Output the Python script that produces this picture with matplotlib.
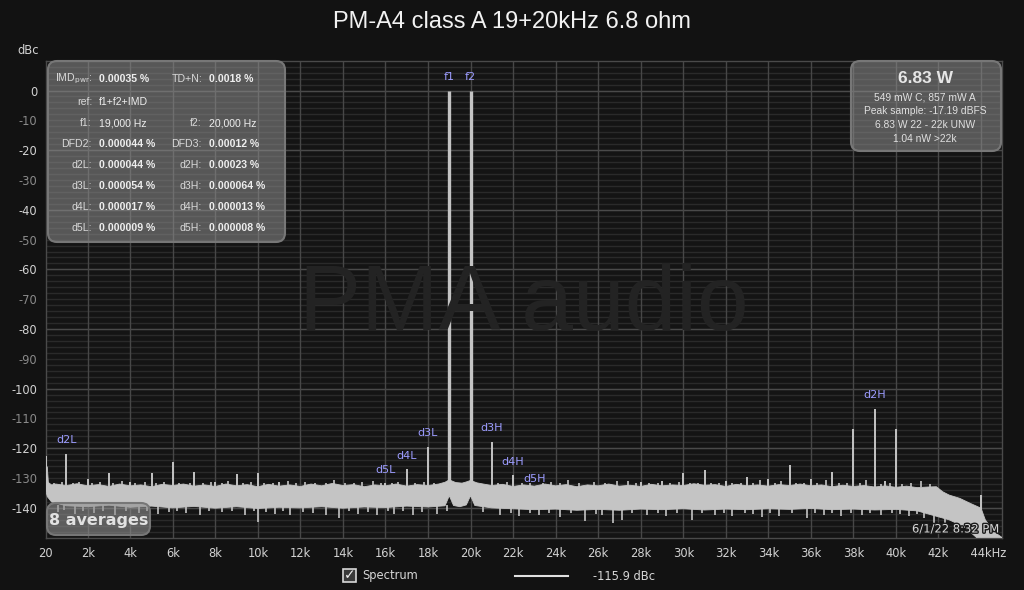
import numpy as np
import matplotlib
matplotlib.use("Agg")
import matplotlib.pyplot as plt
from matplotlib.patches import FancyBboxPatch, Rectangle
from matplotlib.lines import Line2D
import matplotlib.patheffects as pe

# ---------------- data ----------------
title = "PM-A4 class A 19+20kHz 6.8 ohm"

x_tick_hz = [20] + list(range(2000, 44001, 2000))
x_tick_labels = ["20"] + [f"{k}k" for k in range(2, 43, 2)] + ["    44kHz"]
y_tick_db = list(range(0, -141, -10))

# noise-floor band: upper envelope (kHz, dBc)
floor_top_khz = [0.02, 0.06, 0.10, 0.15, 0.3, 0.5, 1.0, 1.5, 2.0, 2.5, 3.0, 3.5, 4.0, 4.5, 5.0,
                 5.5, 6.0, 6.5, 7.0, 7.5, 8.0, 8.5, 9.0, 9.5, 10.0, 10.5, 11.0, 11.5, 12.0,
                 12.5, 13.0, 13.5, 14.0, 14.5, 15.0, 15.5, 16.0, 16.5, 17.0, 17.5, 18.0, 18.5,
                 18.8, 19.0, 19.3, 19.6, 19.8, 20.0, 20.3, 20.6, 21.0, 21.5, 22.0, 22.5, 23.0,
                 23.5, 24.0, 24.5, 25.0, 25.5, 26.0, 26.5, 27.0, 27.5, 28.0, 28.5, 29.0, 29.5,
                 30.0, 30.5, 31.0, 31.5, 32.0, 32.5, 33.0, 33.5, 34.0, 34.5, 35.0, 35.5, 36.0,
                 36.5, 37.0, 37.5, 38.0, 38.5, 39.0, 39.5, 40.0, 40.5, 41.0, 41.5, 41.9, 42.2,
                 42.5, 43.0, 43.5, 44.0, 44.2, 44.6, 45.0]
floor_top_db = [-122.6, -126.0, -126.3, -131.5, -132.3, -132.0, -132.5, -131.9, -132.6, -132.2,
                -132.8, -132.0, -132.6, -132.3, -132.9, -132.1, -132.5, -132.0, -132.7, -132.3,
                -132.8, -132.0, -132.6, -132.2, -132.9, -132.1, -132.7, -132.3, -132.8, -132.0,
                -132.6, -131.8, -132.5, -132.2, -132.9, -132.3, -132.6, -132.0, -132.7, -132.2,
                -132.5, -132.0, -131.4, -130.6, -131.5, -131.7, -131.3, -130.8, -131.6, -132.0,
                -132.5, -132.1, -132.8, -132.3, -132.7, -132.0, -132.6, -132.2, -132.9, -132.3,
                -132.6, -132.0, -132.7, -132.4, -132.8, -132.1, -132.6, -132.3, -132.5, -131.9,
                -132.4, -132.2, -132.8, -132.1, -132.6, -132.3, -132.7, -132.2, -132.5, -132.0,
                -132.6, -132.3, -132.9, -132.4, -132.8, -132.5, -133.0, -132.6, -133.1, -132.7,
                -133.2, -133.0, -132.9, -134.6, -135.7, -136.8, -138.5, -140.1, -144.0, -148.0,
                -150.0]

# noise-floor band: lower envelope (kHz, dBc)
floor_bot_khz = [0.02, 0.1, 0.3, 1.0, 2.0, 3.0, 4.0, 5.0, 6.0, 7.0, 8.0, 9.0, 10.0, 11.0, 12.0,
                 13.0, 14.0, 15.0, 16.0, 17.0, 18.0, 18.8, 19.0, 19.2, 19.5, 19.8, 20.0, 20.2,
                 21.0, 22.0, 23.0, 24.0, 25.0, 26.0, 27.0, 28.0, 29.0, 30.0, 31.0, 32.0, 33.0,
                 34.0, 35.0, 36.0, 37.0, 38.0, 39.0, 40.0, 41.0, 41.6, 42.5, 43.2, 43.8, 45.0]
floor_bot_db = [-134.0, -136.2, -138.0, -139.3, -139.6, -139.1, -139.8, -139.4, -140.0, -139.5,
                -140.1, -139.6, -140.2, -139.8, -140.0, -139.6, -140.1, -139.7, -139.9, -139.4,
                -139.7, -139.3, -135.9, -139.2, -139.6, -139.0, -135.9, -139.2, -140.0, -140.3,
                -140.6, -140.4, -140.8, -140.5, -140.8, -140.4, -140.6, -140.3, -140.7, -140.4,
                -140.6, -140.3, -140.5, -140.2, -140.6, -140.4, -140.7, -140.5, -141.0, -142.2,
                -144.0, -146.3, -150.0, -150.0]

# downward noise teeth (kHz, dBc)
teeth_down_khz = [0.6, 0.9, 1.4, 1.8, 2.3, 2.7, 3.3, 3.8, 4.4, 4.8, 5.3, 5.8, 6.2, 6.6, 7.3, 7.7,
                  8.3, 8.8, 9.4, 9.8, 10.02, 10.4, 10.8, 11.2, 11.5, 12.1, 12.6, 13.2, 13.8, 14.3,
                  14.7, 15.2, 15.6, 16.1, 16.4, 16.8, 17.3, 17.7, 18.4, 18.9, 20.6, 21.4, 21.9,
                  22.3, 22.8, 23.2, 23.7, 24.2, 24.7, 25.4, 25.9, 26.2, 26.7, 27.1, 27.6, 28.3,
                  28.8, 29.2, 29.7, 30.4, 30.9, 31.5, 31.9, 32.3, 32.9, 33.3, 33.7, 34.1, 34.5,
                  35.1, 35.8, 36.2, 36.6, 37.0, 37.4, 37.9, 38.4, 38.8, 39.3, 39.8, 40.2, 40.6,
                  41.0, 41.3, 41.8, 42.3, 42.8]
teeth_down_db = [-141.5, -140.8, -142.0, -141.0, -141.6, -140.9, -142.3, -141.2, -141.8, -141.0,
                 -142.0, -141.3, -141.1, -141.8, -142.3, -141.0, -141.5, -141.2, -142.4, -141.0,
                 -144.6, -141.3, -142.0, -141.1, -142.5, -141.4, -141.8, -142.5, -143.4, -141.2,
                 -142.2, -141.3, -142.5, -141.2, -142.0, -141.1, -142.4, -141.3, -142.0, -141.2,
                 -141.4, -142.5, -141.6, -142.8, -141.8, -142.3, -141.7, -143.0, -141.8, -144.3,
                 -141.9, -142.5, -145.2, -144.0, -141.7, -142.5, -141.8, -142.8, -141.6, -144.0,
                 -141.7, -142.5, -141.6, -142.8, -141.7, -141.9, -143.0, -141.6, -142.6, -141.7,
                 -143.3, -141.6, -142.4, -141.7, -142.8, -141.6, -142.5, -141.8, -142.3, -141.7,
                 -141.9, -142.6, -142.0, -143.5, -145.5, -145.8, -146.0]

# small upward noise teeth (kHz, dBc)
teeth_up_khz = [0.4, 0.8, 1.3, 1.6, 2.2, 2.6, 3.2, 3.6, 4.2, 4.7, 5.2, 5.6, 6.3, 6.8, 7.4, 7.8,
                8.3, 8.6, 9.3, 9.7, 10.3, 10.7, 11.4, 11.8, 12.2, 12.7, 13.2, 13.6, 14.1, 14.5,
                14.9, 15.4, 15.8, 16.3, 16.6, 17.4, 17.8, 18.3, 21.3, 21.7, 22.4, 22.8, 23.4,
                23.8, 24.2, 24.6, 25.1, 25.8, 26.3, 26.9, 27.4, 27.8, 28.4, 28.8, 29.4, 29.8,
                30.3, 30.7, 31.3, 31.7, 32.3, 32.7, 33.3, 33.6, 34.3, 34.6, 35.3, 35.7, 36.3,
                36.7, 37.3, 37.7, 38.3, 38.6, 39.3, 39.7, 40.3, 40.7, 41.2, 41.6]
teeth_up_db = [-131.6, -131.4, -131.8, -131.2, -131.7, -131.4, -131.8, -131.0, -131.6, -131.3,
               -131.8, -131.2, -131.7, -131.5, -131.8, -131.4, -131.6, -130.9, -131.7, -131.4,
               -131.8, -131.5, -131.0, -131.7, -131.4, -131.8, -131.5, -130.8, -131.7, -131.5,
               -131.2, -130.9, -131.7, -131.5, -131.3, -131.6, -131.4, -131.7, -131.7, -131.4,
               -131.8, -131.5, -131.7, -131.2, -131.6, -130.8, -131.7, -131.3, -131.6, -130.9,
               -131.1, -131.7, -131.5, -131.8, -131.6, -131.4, -131.7, -131.5, -131.6, -131.8,
               -131.5, -131.7, -131.6, -130.6, -131.7, -130.9, -131.6, -131.8, -131.5, -130.8,
               -131.7, -131.5, -131.8, -130.6, -131.9, -131.7, -132.0, -131.8, -131.0, -132.1]

# spectral lines (Hz, dBc)
peak_hz = [20, 1000, 2000, 3000, 4000, 5000, 6000, 7000, 8000, 9000, 10000, 11000, 16000, 17000,
           18000, 19000, 20000, 21000, 22000, 23000, 28000, 29000, 30000, 31000, 32000, 33000,
           34000, 35000, 36000, 37000, 38000, 39000, 39500, 40000, 44000]
peak_db = [-122.6, -121.9, -130.4, -128.4, -131.2, -128.4, -124.6, -128.0, -131.2, -128.6,
           -128.4, -131.2, -131.7, -127.1, -119.5, 0.0, 0.0, -117.8, -129.0, -135.0, -131.3,
           -130.9, -128.2, -127.3, -130.9, -129.7, -130.3, -125.6, -130.4, -128.1, -113.6,
           -106.8, -130.9, -113.6, -135.7]

# product labels
prod_names = ["f1", "f2", "d2L", "d3L", "d4L", "d5L", "d2H", "d3H", "d4H", "d5H"]
prod_hz = [19000, 20000, 1000, 18000, 17000, 16000, 39000, 21000, 22000, 23000]
prod_db = [0.0, 0.0, -121.9, -119.5, -127.1, -131.7, -106.8, -117.8, -129.0, -135.0]

# info box
info_left_labels = ["IMD$_{\\mathrm{pwr}}$:", "ref:", "f1:", "DFD2:", "d2L:", "d3L:", "d4L:", "d5L:"]
info_left_values = ["0.00035 %", "f1+f2+IMD", "19,000 Hz", "0.000044 %", "0.000044 %",
                    "0.000054 %", "0.000017 %", "0.000009 %"]
info_right_labels = ["TD+N:", "", "f2:", "DFD3:", "d2H:", "d3H:", "d4H:", "d5H:"]
info_right_values = ["0.0018 %", "", "20,000 Hz", "0.00012 %", "0.00023 %", "0.000064 %",
                     "0.000013 %", "0.000008 %"]
info_bold = [True, False, False, True, True, True, True, True]

power_title = "6.83 W"
power_lines = ["549 mW C, 857 mW A", "Peak sample: -17.19 dBFS", "6.83 W 22 - 22k UNW",
               "1.04 nW >22k"]
averages_text = "8 averages"
timestamp = "6/1/22 8:32 PM"
legend_name = "Spectrum"
legend_value = "-115.9 dBc"

# ---------------- figure ----------------
W, H = 1024, 590
BG = "#121212"
fig = plt.figure(figsize=(W / 100, H / 100), dpi=100, facecolor=BG)


def fx(px):
    return px / W


def fy(py):
    return 1 - py / H


L, R, T, B = 45.6, 1002.3, 60.7, 537.7
ax = fig.add_axes([fx(L), fy(B), fx(R) - fx(L), fy(T) - fy(B)])
ax.set_facecolor("#141414")
ax.set_xlim(20, 45000)
ax.set_ylim(-150, 10)

# grid
for yv in np.arange(-148, 10, 2):
    ax.axhline(yv, color="#2a2a2a", lw=1.0, zorder=0.6)
for yv in np.arange(-140, 10, 20):
    ax.axhline(yv, color="#4a4a4a", lw=1.0, zorder=0.7)
for xv in x_tick_hz[1:]:
    ax.axvline(xv, color="#474747", lw=1.0, zorder=0.7)

for s in ax.spines.values():
    s.set_color("#4a4a4a")
    s.set_linewidth(1.0)

ax.set_xticks(x_tick_hz)
ax.set_xticklabels(x_tick_labels, fontsize=8.3, color="#d2d2d2", family="DejaVu Sans")
ax.set_yticks(y_tick_db)
ax.set_yticklabels([str(v) for v in y_tick_db], fontsize=8.3, family="DejaVu Sans")
for lab, v in zip(ax.get_yticklabels(), y_tick_db):
    lab.set_color("#d2d2d2" if v % 20 == 0 else "#8a8a8a")
ax.tick_params(axis="x", length=0, pad=7)
ax.tick_params(axis="y", length=0, pad=6)

# watermark
fig.text(fx(524), fy(330), "PMA audio", fontsize=67, family="Liberation Sans",
         color="#232323", ha="center", va="baseline", zorder=0.8)

# spectrum
SPEC = "#c4c4c4"
top_f = np.array(floor_top_khz) * 1000
bot_f = np.array(floor_bot_khz) * 1000
ax.fill(np.r_[top_f, bot_f[::-1]], np.r_[floor_top_db, floor_bot_db[::-1]],
        color=SPEC, lw=0.6, zorder=3)

ax.vlines(np.array(teeth_down_khz) * 1000, -139, teeth_down_db, color=SPEC, lw=1.2, zorder=3)
ax.vlines(np.array(teeth_up_khz) * 1000, -133, teeth_up_db, color=SPEC, lw=1.2, zorder=3)

peak_hz_a = np.array(peak_hz, dtype=float)
peak_db_a = np.array(peak_db)
base = np.minimum(-134.0, np.interp(peak_hz_a, top_f, floor_top_db) - 0.5)
widths = np.where(peak_db_a > -10, 2.4, 1.4)
ax.vlines(peak_hz_a, base, peak_db_a, colors=SPEC, linewidths=widths, zorder=3)

# product labels
for name, f, d in zip(prod_names, prod_hz, prod_db):
    ax.annotate(name, (f, d), xytext=(0, 13.5), textcoords="offset pixels",
                ha="center", va="center", fontsize=8, color="#9c9cff",
                family="DejaVu Sans", zorder=5)

# title and axis unit
fig.text(0.5, fy(22), title, ha="center", va="center", fontsize=17,
         family="Liberation Sans", color="#f2f2f2")
fig.text(fx(28), fy(50), "dBc", ha="center", va="center", fontsize=8.3,
         family="DejaVu Sans", color="#d2d2d2")


def rbox(x0, y0, x1, y1, r=9, alpha=0.55):
    p = FancyBboxPatch((fx(x0), fy(y1)), fx(x1) - fx(x0), fy(y0) - fy(y1),
                       boxstyle=f"round,pad=0,rounding_size={r / W}",
                       transform=fig.transFigure, facecolor=(0.56, 0.56, 0.56, alpha),
                       edgecolor="#777777", lw=1.5, zorder=6,
                       mutation_aspect=W / H)
    fig.add_artist(p)


# info box
rbox(48, 61, 285, 242)
rows_y = [79, 102.3, 123.5, 144.3, 165, 186, 207.3, 228.3]
TXT = "#dadada"
for i, yv in enumerate(rows_y):
    wt = "bold" if info_bold[i] else "normal"
    fig.text(fx(92), fy(yv), info_left_labels[i], ha="right", va="center", fontsize=7.6,
             family="Liberation Sans", color=TXT, zorder=7)
    fig.text(fx(99), fy(yv), info_left_values[i], ha="left", va="center", fontsize=7.6,
             family="Liberation Sans", color="#eeeeee", weight=wt, zorder=7)
    if info_right_labels[i]:
        fig.text(fx(202), fy(yv), info_right_labels[i], ha="right", va="center", fontsize=7.6,
                 family="Liberation Sans", color=TXT, zorder=7)
        fig.text(fx(209), fy(yv), info_right_values[i], ha="left", va="center", fontsize=7.6,
                 family="Liberation Sans", color="#eeeeee", weight=wt, zorder=7)

# power box
rbox(851, 61, 1001, 151)
fig.text(fx(925), fy(78.5), power_title, ha="center", va="center", fontsize=12.5,
         weight="bold", family="Liberation Sans", color="#e6e6e6", zorder=7)
for yv, s in zip([97, 110.5, 125, 138.5], power_lines):
    fig.text(fx(925), fy(yv), s, ha="center", va="center", fontsize=7.4,
             family="Liberation Sans", color="#e0e0e0", zorder=7)

# averages box
rbox(47, 503, 150, 535, r=9, alpha=0.6)
fig.text(fx(98.5), fy(520), averages_text, ha="center", va="center", fontsize=11.5,
         weight="bold", family="DejaVu Sans", color="#e2e2e2", zorder=7)

# timestamp
fig.text(fx(999), fy(529), timestamp, ha="right", va="center", fontsize=8.3,
         family="DejaVu Sans", color="#d6d6d6", zorder=7,
         path_effects=[pe.withStroke(linewidth=2, foreground="#1a1a1a")])

# legend
fig.add_artist(Rectangle((fx(343), fy(582)), fx(13), 13 / H, transform=fig.transFigure,
                         facecolor="#3a3a3a", edgecolor="#d8d8d8", lw=1.2))
fig.text(fx(349.5), fy(575.5), "\u2713", ha="center", va="center", fontsize=10,
         weight="bold", family="DejaVu Sans", color="#f0f0f0")
fig.text(fx(362), fy(576), legend_name, ha="left", va="center", fontsize=8.3,
         family="DejaVu Sans", color="#d6d6d6")
fig.add_artist(Line2D([fx(515), fx(568)], [fy(576), fy(576)], transform=fig.transFigure,
                      color="#e0e0e0", lw=1.5))
fig.text(fx(593), fy(576), legend_value, ha="left", va="center", fontsize=8.3,
         family="DejaVu Sans", color="#d6d6d6")

fig.savefig("out.png", dpi=100, facecolor=BG)
